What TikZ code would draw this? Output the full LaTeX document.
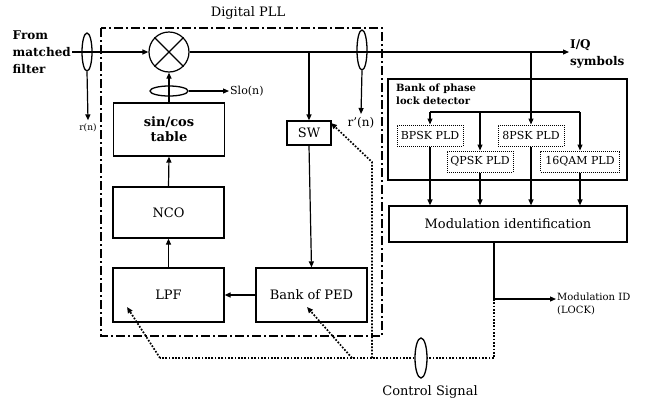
\documentclass[tikz,border=0pt]{standalone}
\usepackage{fontspec}
\setmainfont{DejaVu Serif}
\usetikzlibrary{arrows.meta,positioning,shapes}

\begin{document}
\begin{tikzpicture}[x=1pt, y=-1pt,
  every node/.style={font=\fontsize{13}{15}\selectfont},
  blk/.style={draw, line width=1.2pt, minimum width=111pt, minimum height=53pt},
  pld/.style={draw, densely dotted, line width=1pt, minimum height=21pt, inner sep=1pt,
              font=\fontsize{11}{13}\selectfont},
  tap/.style={draw, ellipse, line width=1.3pt, inner sep=0pt},
  arr/.style={-{Triangle[length=6pt,width=5pt]}, line width=1.2pt},
  ctrl/.style={line width=1.7pt, dash pattern=on 1.7pt off 1.6pt}]
  \useasboundingbox (0,0) rectangle (646,405);

  % digital PLL frame
  \draw[line width=1.2pt, dash pattern=on 9pt off 3pt on 2pt off 3pt] (101,28) rectangle (382,336);
  \node (title) at (248,13) {Digital PLL};

  % mixer
  \node[draw, circle, line width=1.2pt, minimum size=40pt, inner sep=0pt] (mix) at (169,52) {};
  \draw[line width=1.2pt] (mix.north west) -- (mix.south east) (mix.north east) -- (mix.south west);

  % loop blocks
  \node[blk, align=center, font=\fontsize{13}{15}\selectfont\bfseries] (sincos) at (169,129.5) {sin/cos\\table};
  \node[blk, minimum height=51pt] (nco) at (168.5,212.5) {NCO};
  \node[blk, minimum height=54pt] (lpf) at (168.5,295) {LPF};
  \node[blk, minimum height=54pt] (ped) at (311.5,295) {Bank of PED};
  \node[draw, line width=1.2pt, minimum width=44pt, minimum height=24pt, inner sep=0pt] (sw) at (309,133) {SW};

  % detector bank
  \node[draw, line width=1.2pt, minimum width=239pt, minimum height=101pt] (bank) at (507.5,129.5) {};
  \node[anchor=north west, align=left, inner sep=0pt,
        font=\fontsize{10}{13}\selectfont\bfseries] (banklab) at (396,84) {Bank of phase\\lock detector};
  \node[pld, minimum width=66pt] (bpsk) at (430,135.5) {BPSK PLD};
  \node[pld, minimum width=66pt] (psk8) at (531,135.5) {8PSK PLD};
  \node[pld, minimum width=66pt] (qpsk) at (480,161.5) {QPSK PLD};
  \node[pld, minimum width=79pt] (qam) at (580,161.5) {16QAM PLD};
  \node[blk, minimum width=238pt, minimum height=36pt] (modid) at (508,224) {Modulation identification};

  % texts
  \node[anchor=east, align=left, inner sep=1pt,
        font=\fontsize{12}{17}\selectfont\bfseries] (src) at (72,52) {From\\matched\\filter};
  \node[anchor=west, align=left, inner sep=1pt,
        font=\fontsize{12}{17}\selectfont\bfseries] (iq) at (569,54) {I/Q\\symbols};
  \node[font=\fontsize{9}{11}\selectfont] (rn) at (88,128) {r(n)};
  \node[font=\fontsize{12}{14}\selectfont] (rpn) at (361,123) {r'(n)};
  \node[anchor=west, inner sep=1pt, font=\fontsize{11}{13}\selectfont] (slo) at (229,91) {Slo(n)};
  \node[anchor=west, align=left, inner sep=1pt,
        font=\fontsize{10}{13}\selectfont] (modlock) at (556,304) {Modulation ID\\(LOCK)};
  \node (ctrllab) at (430,392) {Control Signal};

  % taps
  \node[tap, minimum width=10pt, minimum height=38pt] (tapin) at (87,52) {};
  \node[tap, minimum width=10pt, minimum height=40pt] (tapr) at (362,50) {};
  \node[tap, minimum width=38pt, minimum height=10pt] (taplo) at (169,91) {};

  % signal path
  \draw[arr] (src.east) -- (mix.west);
  \draw[arr] (mix.east) -- (mix.east -| iq.west);
  \draw[arr] (tapin.south) -- (rn.north);
  \draw[arr] (tapr.south) -- (rpn.north);
  \draw[arr] (mix.east -| sw.north) -- (sw.north);
  \draw[arr] (mix.east -| psk8.north) -- (psk8.north);
  \draw[arr] (sincos.north) -- (mix.south);
  \draw[arr] (taplo.east) -- (slo.west);
  \draw[arr] (nco.north) -- (sincos.south);
  \draw[arr] (lpf.north) -- (nco.south);
  \draw[arr] (sw.south) -- (ped.north);
  \draw[arr] (ped.west) -- (lpf.east);

  % detector bank wiring
  \coordinate (dist) at (530,112);
  \draw[line width=1.2pt] (dist -| bpsk.north) -- (dist -| qam.north);
  \foreach \d in {bpsk, qpsk, qam}
    \draw[arr] (dist -| \d.north) -- (\d.north);
  \foreach \d in {bpsk, psk8, qpsk, qam}
    \draw[arr] (\d.south) -- (\d.south |- modid.north);

  % lock output
  \coordinate (lock) at (494,299);
  \draw[arr] (modid.south -| lock) -- (lock) -- (lock -| modlock.west);

  % control signal
  \coordinate (csl) at (160,358);
  \draw[ctrl] (lock) -- (lock |- csl) -- (csl);
  \draw[ctrl, -{Triangle[length=6pt,width=5pt]}] (csl) -- (127,307);
  \draw[ctrl, -{Triangle[length=6pt,width=5pt]}] (352,358) -- (307,307);
  \draw[ctrl, -{Triangle[length=6pt,width=5pt]}] (372,358) -- (372,162) -- (331,123);
  \node[tap, fill=white, minimum width=12pt, minimum height=40pt] (csig) at (421,358) {};
\end{tikzpicture}
\end{document}
